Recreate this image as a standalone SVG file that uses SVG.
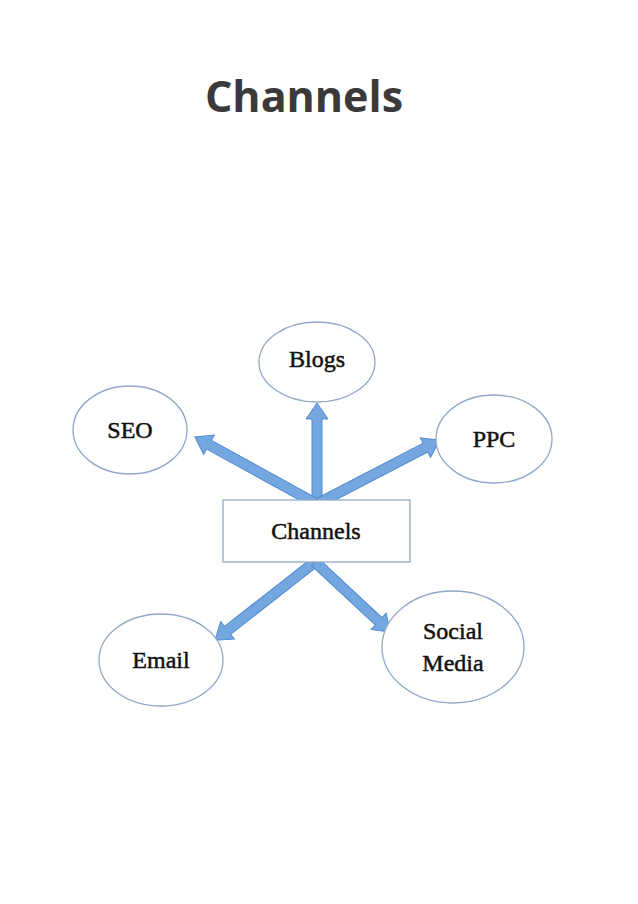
<svg xmlns="http://www.w3.org/2000/svg" width="638" height="904" viewBox="0 0 638 904">
<style>
.node{fill:#fff;stroke:#8fa8c8;stroke-width:1.3}
.lbl{font-family:"Liberation Serif",serif;font-size:24px;fill:#111;stroke:#111;stroke-width:0.5;text-anchor:middle}
.arr{fill:#74a6e0;stroke:#4f8bd0;stroke-width:1}
</style>
<rect width="638" height="904" fill="#fff"/>
<text x="304" y="112" font-family="'Open Sans',sans-serif" font-weight="bold" font-size="43" fill="#3a3a3a" text-anchor="middle">Channels</text>
<g id="connectors">
<path class="arr" transform="translate(317,503) rotate(-90)" d="M0,-5 L84,-5 L84,-11 L100,0 L84,11 L84,5 L0,5 Z"/>
<path class="arr" transform="translate(315,503) rotate(-151.2)" d="M0,-5 L121,-5 L121,-11 L137,0 L121,11 L121,5 L0,5 Z"/>
<path class="arr" transform="translate(319,503) rotate(-27.5)" d="M0,-5 L120,-5 L120,-11 L136,0 L120,11 L120,5 L0,5 Z"/>
<path class="arr" transform="translate(315,562) rotate(142)" d="M0,-5 L111,-5 L111,-11 L127,0 L111,11 L111,5 L0,5 Z"/>
<path class="arr" transform="translate(315,562) rotate(43)" d="M0,-5 L87,-5 L87,-11 L103,0 L87,11 L87,5 L0,5 Z"/>
</g>
<g id="channels"><rect class="node" x="223" y="500" width="187" height="62"/><text class="lbl" x="316" y="539">Channels</text></g>
<g id="blogs"><ellipse class="node" cx="317" cy="362" rx="58" ry="40"/><text class="lbl" x="317" y="367">Blogs</text></g>
<g id="seo"><ellipse class="node" cx="130" cy="430" rx="57" ry="44"/><text class="lbl" x="130" y="438">SEO</text></g>
<g id="ppc"><ellipse class="node" cx="494" cy="439" rx="58" ry="44"/><text class="lbl" x="494" y="447">PPC</text></g>
<g id="email"><ellipse class="node" cx="161" cy="660" rx="62" ry="46"/><text class="lbl" x="161" y="668">Email</text></g>
<g id="social"><ellipse class="node" cx="453" cy="647" rx="71" ry="56"/><text class="lbl" x="453" y="639">Social</text><text class="lbl" x="453" y="671">Media</text></g>
</svg>
